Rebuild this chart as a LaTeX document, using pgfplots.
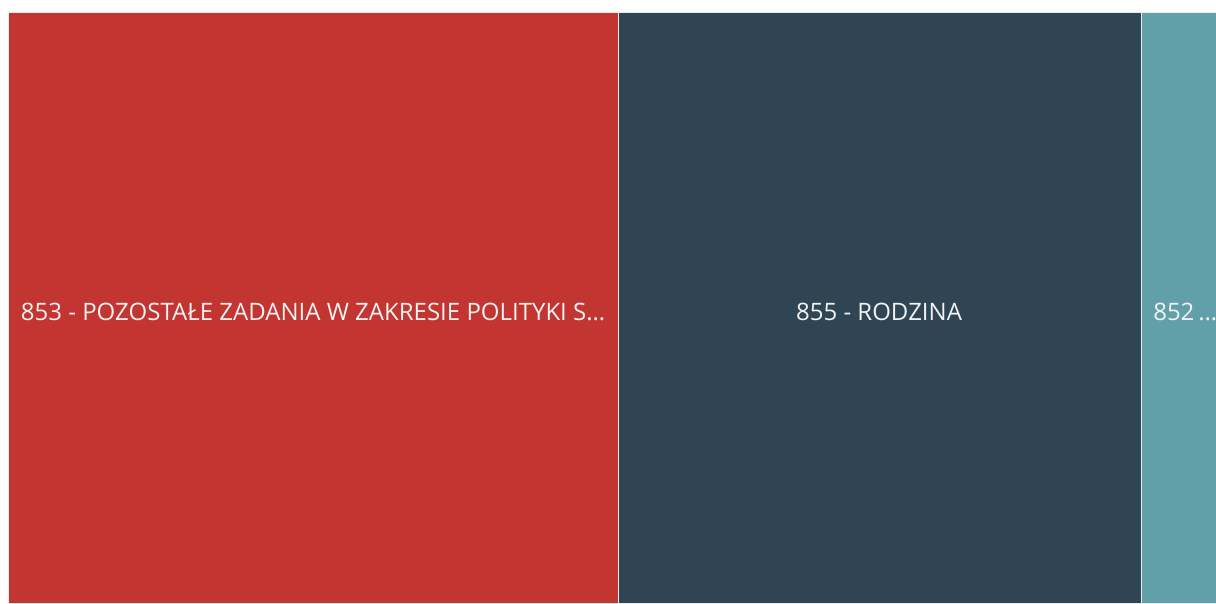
\documentclass[border=0pt]{standalone}
\usepackage{fontspec}
\setmainfont{Open Sans}
\usepackage{pgfplots}
\pgfplotsset{compat=1.18}
\definecolor{TmRed}{HTML}{C23531}
\definecolor{TmSlate}{HTML}{2F4554}
\definecolor{TmTeal}{HTML}{61A0A8}

\begin{document}
\begin{tikzpicture}[x=0.75pt,y=0.75pt]
  % white page behind the treemap (1216 x 603 px)
  \path[use as bounding box] (-8,0) rectangle (1208,603);
  \begin{axis}[
    at={(0,0)}, anchor=south west,
    scale only axis,
    width=906pt, height=443.25pt,
    hide axis,
    xbar stacked,
    bar width=1,
    xmin=0, xmax=1208,
    ymin=-0.5, ymax=0.5,
    clip=true,
  ]
    \addplot[fill=TmRed, draw=white!85!gray, line width=0.5pt] coordinates {(610,0)};
    \addplot[fill=TmSlate, draw=white!85!gray, line width=0.5pt] coordinates {(523,0)};
    \addplot[fill=TmTeal, draw=white!85!gray, line width=0.5pt] coordinates {(300,0)};

    \coordinate (l1) at (axis cs:305,-0.007);
    \coordinate (l2) at (axis cs:871,-0.007);
    \coordinate (l3) at (axis cs:1145,-0.007);
  \end{axis}
  \begin{scope}[every node/.style={text=white!95!black, font=\fontsize{18}{21}\selectfont}]
    \node at (l1) {853 - POZOSTAŁE ZADANIA W ZAKRESIE POLITYKI S…};
    \node at (l2) {855 - RODZINA};
    \node[anchor=west, inner sep=0pt] at (l3) {852\,…};
  \end{scope}
\end{tikzpicture}
\end{document}
